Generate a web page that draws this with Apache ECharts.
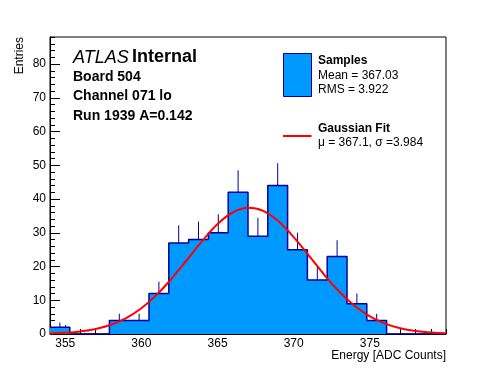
<!DOCTYPE html>
<html>
<head>
<meta charset="utf-8">
<script src="https://cdn.jsdelivr.net/npm/echarts@6/dist/echarts.min.js"></script>
<style>html,body{margin:0;padding:0;background:#fff}#c{width:496px;height:372px}</style>
</head>
<body>
<div id="c"></div>
<script>
// ---- data ----
var binEdges = [354, 355.3, 356.6, 357.9, 359.2, 360.5, 361.8, 363.1, 364.4, 365.7, 367.0,
                368.3, 369.6, 370.9, 372.2, 373.5, 374.8, 376.1, 377.4, 378.7, 380];
var counts   = [2, 0, 0, 4, 4, 12, 27, 28, 30, 42, 29, 44, 25, 16, 23, 9, 4, 0, 0, 0];
var errors   = [1.4, 0, 0, 2, 2, 3.5, 5.2, 5.3, 5.5, 6.5, 5.4, 6.6, 5, 4, 4.8, 3, 2, 0, 0, 0];
var fitX = [354, 355, 356, 357, 358, 359, 360, 361, 362, 363, 364, 365, 366, 367, 368, 369,
            370, 371, 372, 373, 374, 375, 376, 377, 378, 379, 380];
var fitY = [0.17, 0.37, 0.77, 1.5, 2.75, 4.73, 7.65, 11.6, 16.5, 22.0, 27.6, 32.6, 36.0, 37.4,
            36.5, 33.4, 28.7, 23.2, 17.6, 12.5, 8.35, 5.23, 3.08, 1.71, 0.89, 0.43, 0.2];
var xMajorTicks = [355, 360, 365, 370, 375];
var yMajorTicks = [0, 10, 20, 30, 40, 50, 60, 70, 80];

// ---- build ----
var FONT = "'Liberation Sans', Arial, Helvetica, sans-serif";
var stepData = [];
for (var i = 0; i < counts.length; i++) stepData.push([binEdges[i], counts[i]]);
stepData.push([binEdges[binEdges.length - 1], counts[counts.length - 1]]);
var errData = [];
for (var j = 0; j < counts.length; j++) {
  if (errors[j] > 0) errData.push([(binEdges[j] + binEdges[j + 1]) / 2, counts[j], errors[j]]);
}
var fitData = fitX.map(function (x, k) { return [x, fitY[k]]; });

var chart = echarts.init(document.getElementById('c'), null, {renderer: 'canvas'});
var NAVY = '#000099';
chart.setOption({
  animation: false,
  backgroundColor: '#fff',
  grid: {left: 50, right: 50, top: 37, bottom: 38, show: true, borderColor: '#000', borderWidth: 1, backgroundColor: 'transparent'},
  xAxis: [{
    type: 'value', min: 354, max: 380, position: 'bottom',
    axisLine: {show: true, lineStyle: {color: '#000', width: 1}},
    axisTick: {show: true, inside: true, length: 9, customValues: xMajorTicks, lineStyle: {color: '#000'}},
    axisLabel: {show: true, customValues: xMajorTicks, color: '#000', fontSize: 12, fontFamily: FONT, margin: 4},
    splitLine: {show: false}
  }, {
    type: 'value', min: 354, max: 380, interval: 1, position: 'bottom',
    axisLine: {show: false},
    axisTick: {show: true, inside: true, length: 5, lineStyle: {color: '#000'}},
    axisLabel: {show: false},
    splitLine: {show: false}
  }],
  yAxis: [{
    type: 'value', min: 0, max: 88, position: 'left',
    axisLine: {show: true, lineStyle: {color: '#000', width: 1}},
    axisTick: {show: true, inside: true, length: 10, customValues: yMajorTicks, lineStyle: {color: '#000'}},
    axisLabel: {show: true, customValues: yMajorTicks, color: '#000', fontSize: 12, fontFamily: FONT, margin: 4},
    splitLine: {show: false}
  }, {
    type: 'value', min: 0, max: 88, interval: 2, position: 'left',
    axisLine: {show: false},
    axisTick: {show: true, inside: true, length: 5, lineStyle: {color: '#000'}},
    axisLabel: {show: false},
    splitLine: {show: false}
  }],
  series: [{
    type: 'line', name: 'Samples', xAxisIndex: 0, yAxisIndex: 0,
    data: stepData, step: 'end', showSymbol: false, symbol: 'none',
    lineStyle: {color: NAVY, width: 1.5},
    areaStyle: {color: '#0099ff', opacity: 1},
    z: 2
  }, {
    type: 'custom', name: 'err', xAxisIndex: 0, yAxisIndex: 0,
    data: errData,
    renderItem: function (params, api) {
      var p0 = api.coord([api.value(0), api.value(1)]);
      var p1 = api.coord([api.value(0), api.value(1) + api.value(2)]);
      return {type: 'line', shape: {x1: p0[0], y1: p0[1], x2: p1[0], y2: p1[1]},
              style: {stroke: NAVY, lineWidth: 1}};
    },
    z: 3
  }, {
    type: 'line', name: 'Gaussian Fit', xAxisIndex: 0, yAxisIndex: 0,
    data: fitData, smooth: 0.4, showSymbol: false, symbol: 'none',
    lineStyle: {color: '#ff0000', width: 2},
    z: 4
  }],
  graphic: [
    {type: 'text', x: 73, y: 57.5, style: {text: '{a|ATLAS} {b|Internal}', fill: '#000', verticalAlign: 'middle',
      rich: {a: {fontStyle: 'italic', fontSize: 18, fontFamily: FONT}, b: {fontWeight: 'bold', fontSize: 18, fontFamily: FONT}}}},
    {type: 'text', x: 73, y: 77, style: {text: 'Board 504', font: 'bold 14px ' + FONT, fill: '#000', verticalAlign: 'middle'}},
    {type: 'text', x: 73, y: 96.5, style: {text: 'Channel 071 lo', font: 'bold 14px ' + FONT, fill: '#000', verticalAlign: 'middle'}},
    {type: 'text', x: 73, y: 116, style: {text: 'Run 1939 A=0.142', font: 'bold 14px ' + FONT, fill: '#000', verticalAlign: 'middle'}},
    {type: 'rect', shape: {x: 283.5, y: 53.5, width: 28, height: 43}, style: {fill: '#0099ff', stroke: NAVY, lineWidth: 1}},
    {type: 'text', x: 318, y: 61, style: {text: 'Samples', font: 'bold 12px ' + FONT, fill: '#000', verticalAlign: 'middle'}},
    {type: 'text', x: 318, y: 76, style: {text: 'Mean = 367.03', font: '12px ' + FONT, fill: '#000', verticalAlign: 'middle'}},
    {type: 'text', x: 318, y: 89.5, style: {text: 'RMS = 3.922', font: '12px ' + FONT, fill: '#000', verticalAlign: 'middle'}},
    {type: 'line', shape: {x1: 283, y1: 136, x2: 311.5, y2: 136}, style: {stroke: '#ff0000', lineWidth: 2}},
    {type: 'text', x: 318, y: 129, style: {text: 'Gaussian Fit', font: 'bold 12px ' + FONT, fill: '#000', verticalAlign: 'middle'}},
    {type: 'text', x: 318, y: 142.5, style: {text: 'μ = 367.1, σ =3.984', font: '12px ' + FONT, fill: '#000', verticalAlign: 'middle'}},
    {type: 'text', x: 20, y: 37, rotation: Math.PI / 2, style: {text: 'Entries', font: '12px ' + FONT, fill: '#000', align: 'right', verticalAlign: 'middle'}},
    {type: 'text', x: 446, y: 355.5, style: {text: 'Energy [ADC Counts]', font: '12px ' + FONT, fill: '#000', align: 'right', verticalAlign: 'middle'}}
  ]
});
</script>
</body>
</html>
